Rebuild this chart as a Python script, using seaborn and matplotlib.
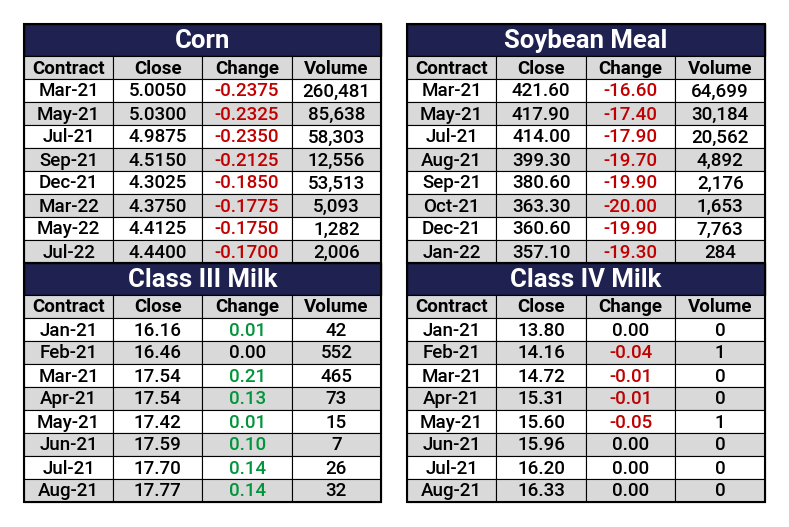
import matplotlib.pyplot as plt
import matplotlib.patches as patches
import seaborn as sns

sns.set_theme(style="white")
plt.rcParams['font.family'] = ['DejaVu Sans Condensed', 'Roboto', 'DejaVu Sans']

headers = ["Contract", "Close", "Change", "Volume"]

corn_contracts = ["Mar-21", "May-21", "Jul-21", "Sep-21", "Dec-21", "Mar-22", "May-22", "Jul-22"]
corn_close = ["5.0050", "5.0300", "4.9875", "4.5150", "4.3025", "4.3750", "4.4125", "4.4400"]
corn_change = ["-0.2375", "-0.2325", "-0.2350", "-0.2125", "-0.1850", "-0.1775", "-0.1750", "-0.1700"]
corn_volume = ["260,481", "85,638", "58,303", "12,556", "53,513", "5,093", "1,282", "2,006"]

meal_contracts = ["Mar-21", "May-21", "Jul-21", "Aug-21", "Sep-21", "Oct-21", "Dec-21", "Jan-22"]
meal_close = ["421.60", "417.90", "414.00", "399.30", "380.60", "363.30", "360.60", "357.10"]
meal_change = ["-16.60", "-17.40", "-17.90", "-19.70", "-19.90", "-20.00", "-19.90", "-19.30"]
meal_volume = ["64,699", "30,184", "20,562", "4,892", "2,176", "1,653", "7,763", "284"]

milk3_contracts = ["Jan-21", "Feb-21", "Mar-21", "Apr-21", "May-21", "Jun-21", "Jul-21", "Aug-21"]
milk3_close = ["16.16", "16.46", "17.54", "17.54", "17.42", "17.59", "17.70", "17.77"]
milk3_change = ["0.01", "0.00", "0.21", "0.13", "0.01", "0.10", "0.14", "0.14"]
milk3_volume = ["42", "552", "465", "73", "15", "7", "26", "32"]

milk4_contracts = ["Jan-21", "Feb-21", "Mar-21", "Apr-21", "May-21", "Jun-21", "Jul-21", "Aug-21"]
milk4_close = ["13.80", "14.16", "14.72", "15.31", "15.60", "15.96", "16.20", "16.33"]
milk4_change = ["0.00", "-0.04", "-0.01", "-0.01", "-0.05", "0.00", "0.00", "0.00"]
milk4_volume = ["0", "1", "0", "0", "1", "0", "0", "0"]

NAVY = "#1f2150"
GRAY = "#d9d9d9"

W, H = 789, 527
fig = plt.figure(figsize=(W / 100, H / 100), dpi=100)
ax = fig.add_axes([0, 0, 1, 1])
ax.set_xlim(0, W)
ax.set_ylim(H, 0)
ax.axis("off")


def change_color(v):
    f = float(v)
    if f < 0:
        return "#c00000"
    if f > 0:
        return "#00953a"
    return "black"


def draw_table(x0, y0, width, title, contracts, close, change, volume):
    title_h, row_h = 32, 23
    col_w = width / 4
    ax.add_patch(patches.Rectangle((x0, y0), width, title_h, facecolor=NAVY, edgecolor="black", lw=1))
    ax.text(x0 + width / 2, y0 + title_h / 2 + 1, title, color="white", fontsize=18.5,
            fontweight="bold", ha="center", va="center")
    y = y0 + title_h
    rows = [headers] + [list(r) for r in zip(contracts, close, change, volume)]
    for i, row in enumerate(rows):
        bg = GRAY if i % 2 == 0 else "white"
        for j, val in enumerate(row):
            cx = x0 + j * col_w
            ax.add_patch(patches.Rectangle((cx, y), col_w, row_h, facecolor=bg,
                                           edgecolor="black", lw=0.8))
            color = "black"
            weight = "bold" if i == 0 else "medium"
            if i > 0 and j == 2:
                color = change_color(val)
            ax.text(cx + col_w / 2, y + row_h / 2 + 1, val, color=color, fontsize=13.5,
                    fontweight=weight, ha="center", va="center")
        y += row_h
    ax.add_patch(patches.Rectangle((x0, y0), width, y - y0, facecolor="none", edgecolor="black", lw=1.5))
    return y


yb = draw_table(24, 24, 357, "Corn", corn_contracts, corn_close, corn_change, corn_volume)
draw_table(407, 24, 358, "Soybean Meal", meal_contracts, meal_close, meal_change, meal_volume)
draw_table(24, yb, 357, "Class III Milk", milk3_contracts, milk3_close, milk3_change, milk3_volume)
draw_table(407, yb, 358, "Class IV Milk", milk4_contracts, milk4_close, milk4_change, milk4_volume)

fig.savefig("out.png", dpi=100)
